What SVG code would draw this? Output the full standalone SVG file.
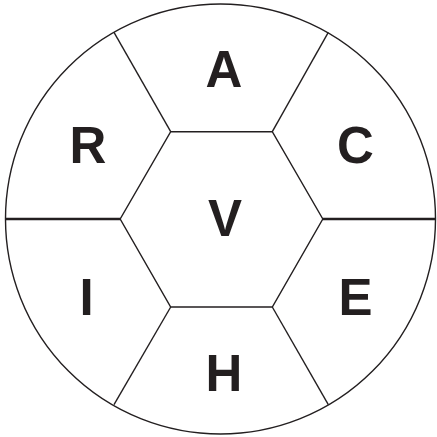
<svg xmlns="http://www.w3.org/2000/svg" width="437" height="437" viewBox="0 0 437 437">
<style>
.ln{stroke:#231f20;stroke-width:1.4;fill:none}
.hz{stroke:#231f20;stroke-width:2.4;fill:none}
.lb{font-family:"Liberation Sans","Arial",sans-serif;font-weight:bold;font-size:51px;fill:#231f20;text-anchor:middle}
</style>
<rect width="437" height="437" fill="#fff"/>
<g id="connectors">
<circle class="ln" cx="220.5" cy="219" r="215"/>
<polygon class="ln" points="170.7,131.7 272.3,131.7 322.8,219 272.3,307 170.7,307 120.2,219"/>
<line class="ln" x1="170.7" y1="131.7" x2="114" y2="32.3"/>
<line class="ln" x1="272.3" y1="131.7" x2="328.3" y2="32.3"/>
<line class="ln" x1="170.7" y1="307" x2="114" y2="404.7"/>
<line class="ln" x1="272.3" y1="307" x2="328.3" y2="404.7"/>
<line class="hz" x1="5.5" y1="219" x2="120.2" y2="219"/>
<line class="hz" x1="322.8" y1="219" x2="435.5" y2="219"/>
</g>
<g id="node-A"><text class="lb" x="224" y="86.7">A</text></g>
<g id="node-R"><text class="lb" x="88" y="163.3">R</text></g>
<g id="node-C"><text class="lb" x="355.5" y="163.3">C</text></g>
<g id="node-V"><text class="lb" x="225" y="236">V</text></g>
<g id="node-I"><text class="lb" x="86.7" y="314.7">I</text></g>
<g id="node-E"><text class="lb" x="355.5" y="314.7">E</text></g>
<g id="node-H"><text class="lb" x="224" y="391.3">H</text></g>
</svg>
